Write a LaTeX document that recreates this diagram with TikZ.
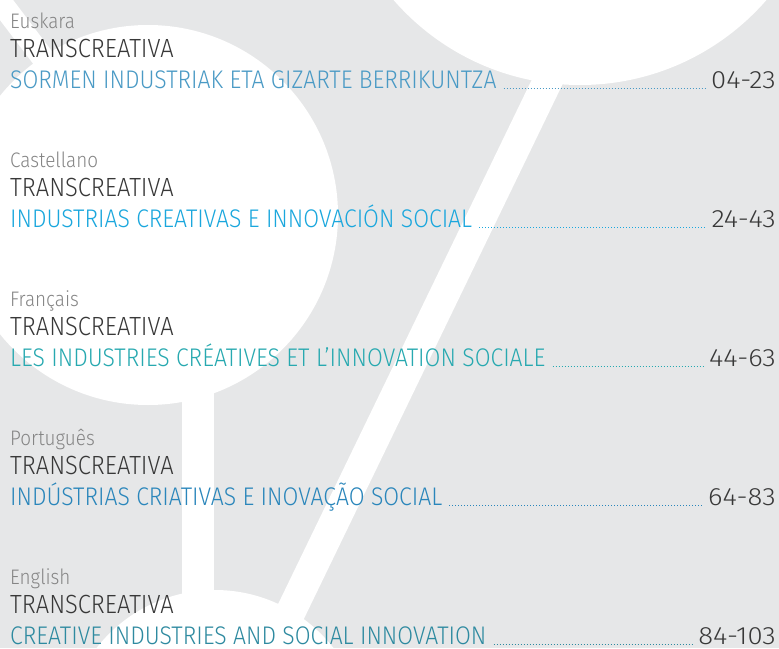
\documentclass[tikz,border=0pt]{standalone}
\usepackage{fontspec}
\setmainfont{Fira Sans}[UprightFont=* Light, FakeStretch=0.9]
\newfontfamily\numfont{Fira Sans}[UprightFont=* Light, FakeStretch=1.1]
\definecolor{bggray}{HTML}{E6E7E8}
\definecolor{langgray}{HTML}{858585}
\definecolor{darktext}{HTML}{383838}
\definecolor{toneA}{HTML}{4A9AC5}
\definecolor{toneB}{HTML}{1AA7DD}
\definecolor{toneC}{HTML}{27A9B0}
\definecolor{toneD}{HTML}{2A86BB}
\definecolor{toneE}{HTML}{2E8AA0}
\tikzset{
  langlabel/.style={anchor=base west,inner sep=0pt,text=langgray,font=\fontsize{21}{21}\selectfont},
  brand/.style={anchor=base west,inner sep=0pt,text=darktext,font=\fontsize{26.3}{26}\selectfont},
  booktitle/.style={anchor=base west,inner sep=0pt,text depth=0pt,font=\fontsize{25.5}{25}\selectfont},
  pagenum/.style={anchor=base east,inner sep=0pt,text depth=0pt,text=darktext,font=\numfont\fontsize{25}{25}\selectfont},
  leader/.style={line width=1pt,dash pattern=on 1pt off 2pt}
}
\begin{document}
\begin{tikzpicture}[x=1pt,y=-1pt]
\useasboundingbox (0,0) rectangle (779,648);
\fill[bggray] (0,0) rectangle (779,648);
% white background shapes
\begin{scope}
\clip (0,0) rectangle (779,648);
\fill[white] (148,215) circle (190pt);
\fill[white] (580,-162) circle (247pt);
\fill[white] (215,740) circle (150pt);
\fill[white] (182,380) rectangle (214,620);
\fill[white] (580,-20) -- (613,-20) -- (284,660) -- (251,660) -- cycle;
\fill[white] (-10,-20) -- (-2,-20) -- (70,75) -- (50,86) -- (-10,7) -- cycle;
\end{scope}
% contents
\foreach \k/\lang/\ttl/\pg/\col in {
    0/Euskara/SORMEN INDUSTRIAK ETA GIZARTE BERRIKUNTZA/04-23/toneA,
    1/Castellano/INDUSTRIAS CREATIVAS E INNOVACIÓN SOCIAL/24-43/toneB,
    2/Français/LES INDUSTRIES CRÉATIVES ET L’INNOVATION SOCIALE/44-63/toneC,
    3/Português/INDÚSTRIAS CRIATIVAS E INOVAÇÃO SOCIAL/64-83/toneD,
    4/English/CREATIVE INDUSTRIES AND SOCIAL INNOVATION/84-103/toneE}{
    \node[langlabel] at (10,{28+139*\k})(lang\k){\lang};
    \node[brand] at (10,{57+139*\k})(brand\k){TRANSCREATIVA};
    \node[booktitle,text=\col] at (10,{88+139*\k})(title\k){\ttl};
    \node[pagenum] at (776,{88+139*\k})(pages\k){\pg};
    \draw[leader,\col] ([xshift=7pt]title\k.base east) -- ([xshift=-5pt]pages\k.base west);
}
\end{tikzpicture}
\end{document}
